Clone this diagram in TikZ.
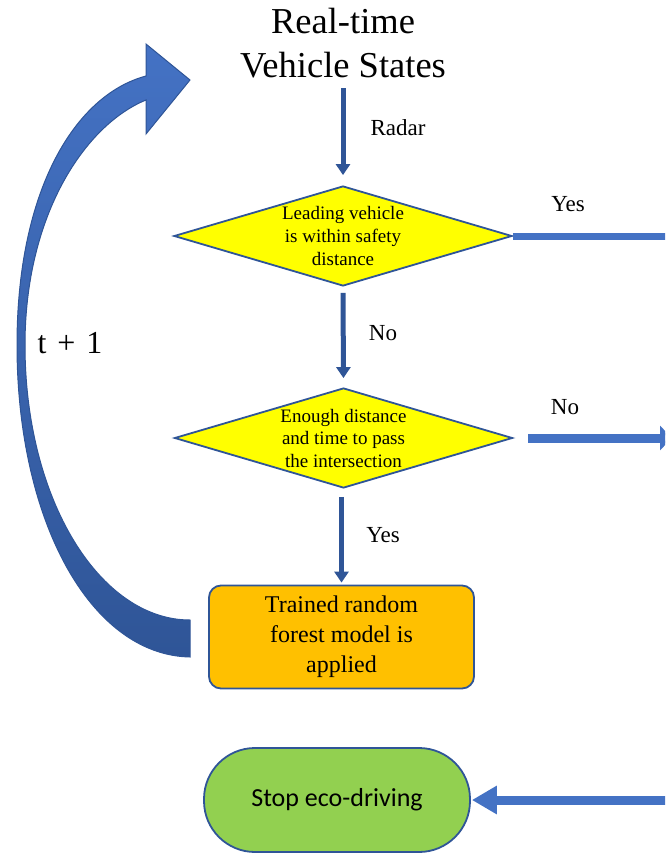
\documentclass[tikz,border=0pt]{standalone}
\usepackage{fontspec}
\setmainfont{Liberation Serif}
\newfontfamily\calib{Carlito}
\usetikzlibrary{arrows.meta,shapes.geometric}
\definecolor{bdark}{HTML}{2F5597}
\definecolor{bmid}{HTML}{4472C4}
\definecolor{yel}{HTML}{FFFF00}
\definecolor{org}{HTML}{FFC000}
\definecolor{grn}{HTML}{92D050}
\begin{document}
\begin{tikzpicture}[x=1pt,y=-1pt,
  decision/.style={diamond, draw=bdark, line width=1.8pt, fill=yel, inner sep=0pt,
    aspect=3.38, minimum width=338pt, minimum height=100pt, align=center,
    font=\fontsize{19}{22.5}\selectfont},
  procbox/.style={rectangle, rounded corners=12pt, draw=bdark, line width=1.8pt, fill=org,
    minimum width=265pt, minimum height=103pt, align=center, inner sep=0pt,
    font=\fontsize{24}{30}\selectfont},
  stopbox/.style={rectangle, rounded corners=51pt, draw=bdark, line width=1.8pt, fill=grn,
    minimum width=266pt, minimum height=104pt, inner sep=0pt,
    font=\calib\fontsize{26}{30}\selectfont},
  flowarrow/.style={draw=bdark, line width=5pt, -{Triangle[width=14pt,length=11pt]}},
  sidearrow/.style={draw=bmid, line width=9pt},
  lbl/.style={font=\fontsize{23}{26}\selectfont, inner sep=0pt},
  titletext/.style={font=\fontsize{36.5}{44}\selectfont, align=center, inner sep=0pt}]

\useasboundingbox (0,0) rectangle (665,853);
\clip (0,0) rectangle (665,853);

% title
\node[titletext] (title) at (343,43) {Real-time\\Vehicle States};

% nodes
\node[decision] (d1) at (343,236) {Leading vehicle\\is within safety\\distance};
\node[decision] (d2) at (343.5,438) {Enough distance\\and time to pass\\the intersection};
\node[procbox] (model) at (341.5,637) {Trained random\\forest model is\\applied};
\node[stopbox] (stop) at (337,800) {Stop eco-driving};

% free ends on the right border
\coordinate (yesend) at (680,236);
\coordinate (noend) at (672,438);
\coordinate (stopin) at (680,800);

% vertical flow arrows
\draw[flowarrow, shorten <=10pt, shorten >=10pt] (title.south) -- (d1.north);
\draw[flowarrow, shorten <=6pt, shorten >=9pt] (d1.south) -- (d2.north);
\draw[flowarrow, shorten <=8pt, shorten >=2pt] (d2.south -| model.north) -- (model.north);

% side connectors
\draw[draw=bmid, line width=7pt] (d1.east) -- (yesend);
\draw[sidearrow, shorten <=15pt, -{Triangle[width=24pt,length=12pt]}] (d2.east) -- (noend);
\draw[sidearrow, shorten >=1pt, -{Triangle[width=27pt,length=25pt]}] (stopin) -- (stop.east);

% labels
\node[lbl] (lradar) at (398,128) {Radar};
\node[lbl] (lno1) at (383,333) {No};
\node[lbl] (lyes2) at (383,535) {Yes};
\node[lbl] (lyes1) at (568,204) {Yes};
\node[lbl] (lno2) at (565,407) {No};
\node[font=\fontsize{32}{36}\selectfont, inner sep=0pt] (lt) at (70,343) {t\hspace{11pt}+\hspace{11pt}1};

% curved feedback arrow
\path[draw=bdark, line width=1pt, top color=bmid, bottom color=bdark]
  (190,657) .. controls (90,655) and (17,520) .. (17,345)
  .. controls (17,190) and (75,95) .. (146,76)
  -- (146,44) -- (190,80) -- (146,134) -- (146,100)
  .. controls (85,125) and (25,215) .. (25,345)
  .. controls (25,500) and (100,620) .. (190,620) -- cycle;

\end{tikzpicture}
\end{document}
